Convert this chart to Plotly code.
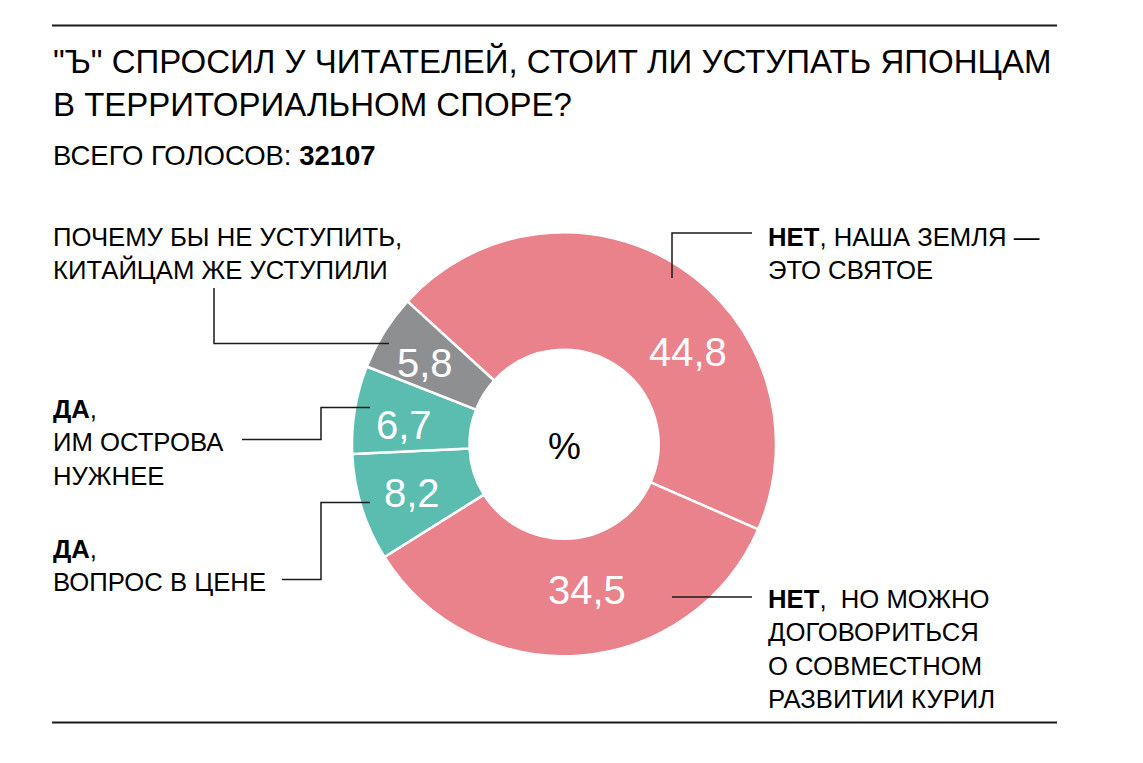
import plotly.graph_objects as go

# ---- data ----
categories = [
    "НЕТ, НАША ЗЕМЛЯ — ЭТО СВЯТОЕ",
    "НЕТ, НО МОЖНО ДОГОВОРИТЬСЯ О СОВМЕСТНОМ РАЗВИТИИ КУРИЛ",
    "ДА, ВОПРОС В ЦЕНЕ",
    "ДА, ИМ ОСТРОВА НУЖНЕЕ",
    "ПОЧЕМУ БЫ НЕ УСТУПИТЬ, КИТАЙЦАМ ЖЕ УСТУПИЛИ",
]
shares = [44.8, 34.5, 8.2, 6.7, 5.8]
slice_colors = ["#E9828A", "#E9828A", "#5BBCB0", "#5BBCB0", "#8E8F91"]
total_votes = 32107

label_texts = [
    "<b>НЕТ</b>, НАША ЗЕМЛЯ —<br>ЭТО СВЯТОЕ",
    "<b>НЕТ</b>, \u00a0НО МОЖНО<br>ДОГОВОРИТЬСЯ<br>О СОВМЕСТНОМ<br>РАЗВИТИИ КУРИЛ",
    "<b>ДА</b>,<br>ВОПРОС В ЦЕНЕ",
    "<b>ДА</b>,<br>ИМ ОСТРОВА<br>НУЖНЕЕ",
    "ПОЧЕМУ БЫ НЕ УСТУПИТЬ,<br>КИТАЙЦАМ ЖЕ УСТУПИЛИ",
]
title_text = "\"Ъ\" СПРОСИЛ У ЧИТАТЕЛЕЙ, СТОИТ ЛИ УСТУПАТЬ ЯПОНЦАМ<br>В ТЕРРИТОРИАЛЬНОМ СПОРЕ?"

# ---- layout helpers (pixel -> paper) ----
W, H = 1143, 763
FONT = "Liberation Sans, Arial, Helvetica, sans-serif"


def px(x):
    return x / W


def py(y):
    return 1 - y / H


cx, cy, R = 564, 444.3, 212

fig = go.Figure()
fig.add_trace(go.Pie(
    labels=categories,
    values=shares,
    sort=False,
    direction="clockwise",
    rotation=-47.6,
    hole=0.446,
    marker=dict(colors=slice_colors, line=dict(color="white", width=2.5)),
    textinfo="none",
    hoverinfo="skip",
    showlegend=False,
    domain=dict(x=[px(cx - R), px(cx + R)], y=[py(cy + R), py(cy - R)]),
))

annotations = []


def text_at(text, x, baseline, size, color="black", align="left", xanchor="left"):
    top = baseline - 0.905 * size - 1
    annotations.append(dict(
        text=text, x=px(x - 1), y=py(top), xref="paper", yref="paper",
        xanchor=xanchor, yanchor="top", align=align, showarrow=False,
        font=dict(family=FONT, size=size, color=color),
    ))


def center_at(text, x, y, size, color):
    annotations.append(dict(
        text=text, x=px(x), y=py(y), xref="paper", yref="paper",
        xanchor="center", yanchor="middle", showarrow=False,
        font=dict(family=FONT, size=size, color=color),
    ))


# title and subtitle
text_at(title_text, 52, 72, 33)
text_at("ВСЕГО ГОЛОСОВ: <b>%d</b>" % total_votes, 52, 164, 27.5)

# category labels
LS = 25.7
text_at(label_texts[0], 767, 245, LS)
text_at(label_texts[1], 767, 607, LS)
text_at(label_texts[2], 52, 557, LS)
text_at(label_texts[3], 52, 417, LS)
text_at(label_texts[4], 52, 245, LS)

# value labels inside slices
value_pos = [(688, 352), (587, 590), (412, 493), (404, 425), (425, 363)]
for v, (x, y) in zip(shares, value_pos):
    center_at(("%.1f" % v).replace(".", ","), x, y, 40, "white")
center_at("%", 564, 446, 37, "black")

fig.update_layout(annotations=annotations)

# leader lines and rules
def path(points):
    d = "M " + " L ".join("%f,%f" % (px(x), py(y)) for x, y in points)
    return dict(type="path", path=d, xref="paper", yref="paper",
                line=dict(color="#1a1a1a", width=1.5))


shapes = [
    path([(672, 278), (672, 233), (752, 233)]),
    path([(672, 597), (752, 597)]),
    path([(214, 288), (214, 343.5), (389, 343.5)]),
    path([(370, 407.5), (321, 407.5), (321, 439.5), (242, 439.5)]),
    path([(370, 502.5), (321, 502.5), (321, 579.5), (282, 579.5)]),
    dict(type="line", xref="paper", yref="paper", x0=px(52), x1=px(1057),
         y0=py(25.5), y1=py(25.5), line=dict(color="#1a1a1a", width=2)),
    dict(type="line", xref="paper", yref="paper", x0=px(52), x1=px(1057),
         y0=py(722.5), y1=py(722.5), line=dict(color="#1a1a1a", width=2)),
]

fig.update_layout(
    shapes=shapes,
    width=W, height=H,
    margin=dict(l=0, r=0, t=0, b=0),
    paper_bgcolor="white", plot_bgcolor="white",
)

fig.write_html("out.html")
